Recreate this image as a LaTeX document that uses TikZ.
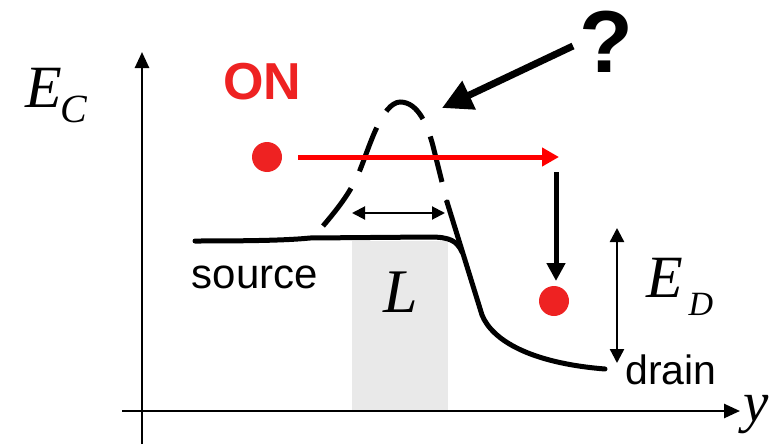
\documentclass[tikz,border=0pt]{standalone}
\usepackage{fontspec}
\setmainfont{Liberation Sans}
\newfontfamily\timesf{Liberation Serif}
\usetikzlibrary{arrows.meta}
\definecolor{dotred}{HTML}{EE2222}
\definecolor{arrred}{HTML}{FF0000}
\definecolor{chgray}{HTML}{E9E9E9}
\tikzset{
  axisline/.style={line width=2.6pt,-{Triangle[length=16pt,width=14pt]}},
  bandcurve/.style={line width=5pt,line cap=round,line join=round},
  dashcurve/.style={line width=5pt,dash pattern=on 47pt off 19pt},
  dotnode/.style={circle,fill=dotred,minimum size=30pt,inner sep=0pt},
  lbl/.style={inner sep=0pt},
  mathlbl/.style={inner sep=0pt,font=\timesf\itshape},
  dimarrow/.style={line width=2.4pt,{Triangle[length=14pt,width=14pt]}-{Triangle[length=14pt,width=14pt]}},
}
\begin{document}
\begin{tikzpicture}[x=1pt,y=-1pt]
\useasboundingbox (0,0) rectangle (778,444);
% channel region
\fill[chgray] (352,241) rectangle (448,411);
% axes
\coordinate (vb) at (142,444);
\coordinate (vt) at (142,52);
\coordinate (hl) at (122,411);
\coordinate (hr) at (740,411);
\draw[axisline] (vb) -- (vt);
\draw[axisline] (hl) -- (hr);
% labels
\node[mathlbl,font=\timesf\itshape\fontsize{60}{70}\selectfont] (ecE) at (44,88) {E};
\node[mathlbl,font=\timesf\itshape\fontsize{40}{48}\selectfont] (ecC) at (74,109) {C};
\node[mathlbl,font=\timesf\itshape\fontsize{57}{66}\selectfont] (ylbl) at (756,415) {y};
\node[lbl,text=dotred,font=\fontsize{52}{60}\selectfont\bfseries] (on) at (262,82) {ON};
\node[lbl,font=\fontsize{88}{100}\selectfont\bfseries] (qm) at (606,42) {?};
\node[lbl,font=\fontsize{42}{50}\selectfont] (src) at (255,277) {source};
\node[lbl,font=\fontsize{41}{49}\selectfont] (drn) at (671,370) {drain};
\node[mathlbl,font=\timesf\itshape\fontsize{62}{72}\selectfont] (Ll) at (401,292) {L};
\node[mathlbl,font=\timesf\itshape\fontsize{60}{70}\selectfont] (edE) at (665,278) {E};
\node[mathlbl,font=\timesf\itshape\fontsize{34}{40}\selectfont] (edD) at (701,304) {D};
% band edge (solid)
\draw[bandcurve] (195,241) .. controls (260,241) and (290,240) .. (310,238)
  -- (430,237) .. controls (450,237) and (457,241) .. (462,252);
\coordinate (bj) at (447,202);
\draw[bandcurve] (bj) -- (482,315) .. controls (492,340) and (530,363) .. (605,369);
% barrier (dashed)
\draw[dashcurve] (323,226) .. controls (340,206) and (352,190) .. (360,170)
  .. controls (370,145) and (382,103) .. (400,102)
  .. controls (418,102) and (428,125) .. (434,150)
  -- (bj);
% electrons
\node[dotnode] (e1) at (267,157) {};
\node[dotnode] (e2) at (554,301) {};
% red transport arrow
\coordinate (ra1) at (298,157);
\coordinate (ra2) at (559,157);
\draw[arrred,line width=5pt,-{Triangle[length=17pt,width=18pt]}] (ra1) -- (ra2);
% drop arrow
\coordinate (da1) at (556,172);
\coordinate (da2) at (556,281);
\draw[line width=5pt,-{Triangle[length=18pt,width=18pt]}] (da1) -- (da2);
% E_D dimension
\coordinate (ed1) at (617,228);
\coordinate (ed2) at (617,363);
\draw[dimarrow] (ed1) -- (ed2);
% L dimension
\coordinate (l1) at (352,213);
\coordinate (l2) at (445,213);
\draw[line width=2pt,{Triangle[length=13pt,width=13pt]}-{Triangle[length=13pt,width=13pt]}] (l1) -- (l2);
% question arrow
\coordinate (qa1) at (573,46);
\coordinate (qa2) at (442,108);
\draw[line width=7pt,-{Triangle[length=30pt,width=30pt]}] (qa1) -- (qa2);
\end{tikzpicture}
\end{document}
